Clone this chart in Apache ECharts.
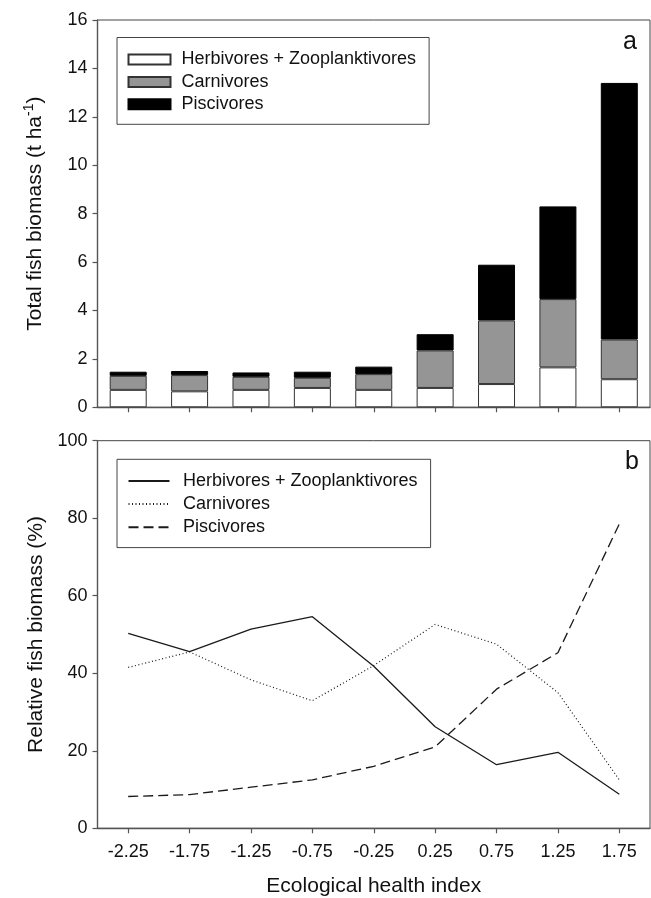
<!DOCTYPE html>
<html>
<head>
<meta charset="utf-8">
<script src="https://cdn.jsdelivr.net/npm/echarts@6/dist/echarts.min.js"></script>
<style>
html,body{margin:0;padding:0;background:#fff;}
#chart{width:651px;height:898px;}
</style>
</head>
<body>
<div id="chart"></div>
<script>
// Ecological health index classes (x axis tick labels)
const categories = ['-2.25','-1.75','-1.25','-0.75','-0.25','0.25','0.75','1.25','1.75'];
const seriesNames = ['Herbivores + Zooplanktivores','Carnivores','Piscivores'];

// Panel a: total fish biomass (t/ha), stacked
const herbBiomass = [0.72, 0.66, 0.72, 0.80, 0.72, 0.80, 0.96, 1.65, 1.16];
const carnBiomass = [0.58, 0.67, 0.54, 0.42, 0.65, 1.55, 2.63, 2.82, 1.64];
const piscBiomass = [0.17, 0.17, 0.18, 0.25, 0.31, 0.67, 2.30, 3.83, 10.60];

// Panel b: relative fish biomass (%)
const herbPct = [50.3, 45.6, 51.4, 54.6, 41.8, 26.2, 16.4, 19.6, 8.8];
const carnPct = [41.5, 45.5, 38.3, 32.9, 42.0, 52.6, 47.5, 35.0, 12.5];
const piscPct = [8.2, 8.7, 10.6, 12.5, 16.0, 21.0, 35.9, 45.3, 78.5];

// Axis ticks
const yTopMin = 0, yTopMax = 16, yTopStep = 2;
const yBotMin = 0, yBotMax = 100, yBotStep = 20;

const FONT = 'Liberation Sans, Arial, Helvetica, sans-serif';
const AXIS_COLOR = '#555';
const TEXT_COLOR = '#111';
const LINE_PREFIX = 'b:';

const chart = echarts.init(document.getElementById('chart'), null, {renderer: 'canvas'});

const axisLineStyle = {show: true, lineStyle: {color: AXIS_COLOR, width: 1.4}};
const axisTickStyle = {show: true, length: 5, lineStyle: {color: AXIS_COLOR, width: 1.2}};

const barColors = ['#ffffff', '#959595', '#000000'];
const barBorders = ['#333333', '#333333', '#000000'];
const barData = [herbBiomass, carnBiomass, piscBiomass];
const pctData = [herbPct, carnPct, piscPct];
const lineTypes = ['solid', [1, 2.5], [10, 5]];
const lineWidths = [1.3, 1.2, 1.3];

const series = [];
seriesNames.forEach((n, i) => {
  series.push({
    name: n, type: 'bar', stack: 'total', xAxisIndex: 0, yAxisIndex: 0,
    data: barData[i], barWidth: 37,
    itemStyle: {color: barColors[i], borderColor: barBorders[i], borderWidth: 1}
  });
});
seriesNames.forEach((n, i) => {
  series.push({
    name: LINE_PREFIX + n, type: 'line', xAxisIndex: 1, yAxisIndex: 1,
    data: pctData[i], symbol: 'none',
    lineStyle: {color: '#1a1a1a', width: lineWidths[i], type: lineTypes[i]},
    itemStyle: {color: '#1a1a1a'}
  });
});

const option = {
  animation: false,
  backgroundColor: '#ffffff',
  textStyle: {fontFamily: FONT},
  grid: [
    {left: 97.5, right: 1, top: 20, height: 387.3, show: true, borderColor: '#444', borderWidth: 1},
    {left: 97.5, right: 1, top: 440.7, height: 387.6, show: true, borderColor: '#444', borderWidth: 1}
  ],
  xAxis: [
    {type: 'category', gridIndex: 0, data: categories, boundaryGap: true,
     axisLine: axisLineStyle, axisTick: Object.assign({alignWithLabel: true}, axisTickStyle),
     axisLabel: {show: false}, splitLine: {show: false}},
    {type: 'category', gridIndex: 1, data: categories, boundaryGap: true,
     axisLine: axisLineStyle, axisTick: Object.assign({alignWithLabel: true}, axisTickStyle),
     axisLabel: {show: true, fontSize: 18, color: TEXT_COLOR, margin: 15, fontFamily: FONT},
     splitLine: {show: false},
     name: 'Ecological health index', nameLocation: 'middle', nameGap: 47,
     nameTextStyle: {fontSize: 21, color: TEXT_COLOR, fontFamily: FONT}}
  ],
  yAxis: [
    {type: 'value', gridIndex: 0, min: yTopMin, max: yTopMax, interval: yTopStep,
     axisLine: axisLineStyle, axisTick: axisTickStyle, splitLine: {show: false},
     axisLabel: {fontSize: 18, color: TEXT_COLOR, margin: 10, fontFamily: FONT},
     name: '{n|Total fish biomass (t ha}{s|-1}{n|)}', nameLocation: 'middle', nameGap: 49,
     nameTextStyle: {fontSize: 21, color: TEXT_COLOR, fontFamily: FONT,
       rich: {n: {fontSize: 21, lineHeight: 26, fontFamily: FONT, color: TEXT_COLOR},
              s: {fontSize: 14, lineHeight: 26, verticalAlign: 'top', fontFamily: FONT, color: TEXT_COLOR}}}},
    {type: 'value', gridIndex: 1, min: yBotMin, max: yBotMax, interval: yBotStep,
     axisLine: axisLineStyle, axisTick: axisTickStyle, splitLine: {show: false},
     axisLabel: {fontSize: 18, color: TEXT_COLOR, margin: 10, fontFamily: FONT},
     name: 'Relative fish biomass (%)', nameLocation: 'middle', nameGap: 49,
     nameTextStyle: {fontSize: 21, color: TEXT_COLOR, fontFamily: FONT}}
  ],
  legend: [
    {data: seriesNames, orient: 'vertical', left: 117, top: 37.5, icon: 'rect',
     padding: [13, 13, 11, 10.5], itemGap: 4.4, itemWidth: 42, itemHeight: 10,
     borderColor: '#444', borderWidth: 1, backgroundColor: '#fff', selectedMode: false,
     textStyle: {fontSize: 18, color: TEXT_COLOR, fontFamily: FONT, padding: [0, 0, 0, 6]}},
    {data: seriesNames.map(n => LINE_PREFIX + n), orient: 'vertical', left: 117, top: 459.3,
     padding: [12.7, 13, 11.4, 10.5], itemGap: 5.1, itemWidth: 41, itemHeight: 14,
     itemStyle: {color: 'rgba(0,0,0,0)', borderWidth: 0, opacity: 0},
     borderColor: '#444', borderWidth: 1, backgroundColor: '#fff', selectedMode: false,
     formatter: n => n.replace(LINE_PREFIX, ''),
     textStyle: {fontSize: 18, color: TEXT_COLOR, fontFamily: FONT, padding: [0, 0, 0, 8.5]}}
  ],
  graphic: [
    {type: 'text', left: 623, top: 30, style: {text: 'a', fontSize: 25, fill: TEXT_COLOR, fontFamily: FONT}},
    {type: 'text', left: 625, top: 450, style: {text: 'b', fontSize: 25, fill: TEXT_COLOR, fontFamily: FONT}}
  ],
  series: series
};
chart.setOption(option);
</script>
</body>
</html>
